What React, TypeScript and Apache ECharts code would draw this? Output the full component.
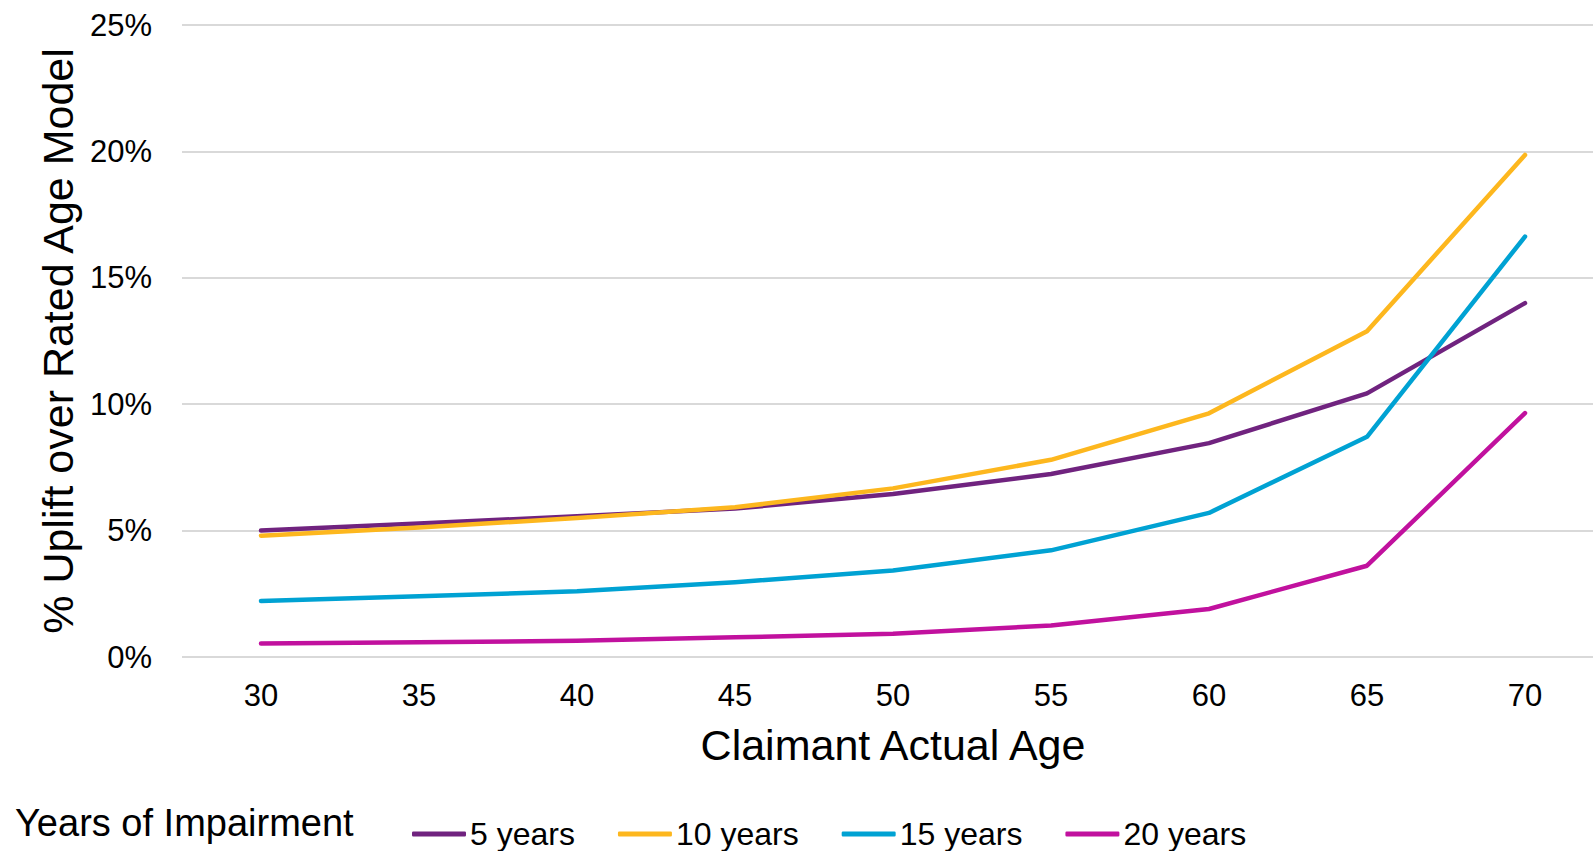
import { useEffect, useRef } from "react";
import * as echarts from "echarts";

// Claimant actual age (x categories)
const ages = ["30", "35", "40", "45", "50", "55", "60", "65", "70"];

// % uplift over the rated age model, by years of impairment
const fiveYears = [5.0, 5.28, 5.57, 5.87, 6.45, 7.24, 8.46, 10.43, 14.0];
const tenYears = [4.8, 5.12, 5.5, 5.92, 6.67, 7.8, 9.64, 12.89, 19.86];
const fifteenYears = [2.22, 2.4, 2.6, 2.96, 3.42, 4.22, 5.7, 8.71, 16.63];
const twentyYears = [0.53, 0.58, 0.64, 0.78, 0.92, 1.25, 1.9, 3.61, 9.65];

const seriesNames = ["5 years", "10 years", "15 years", "20 years"];
const seriesColors = ["#70237F", "#FDB71E", "#00A2D3", "#C1119E"];
const seriesValues = [fiveYears, tenYears, fifteenYears, twentyYears];

const FONT = "'Liberation Sans', Arial, sans-serif";

export default function App() {
  const ref = useRef<HTMLDivElement>(null);

  useEffect(() => {
    document.body.style.margin = "0";
    document.body.style.overflow = "hidden";
    const chart = echarts.init(ref.current!, null, { renderer: "svg" });

    chart.setOption({
      animation: false,
      backgroundColor: "#ffffff",
      textStyle: { fontFamily: FONT, color: "#000000" },
      // the plot runs slightly past the right edge of the visible page
      grid: { left: 182, right: 0, top: 25, bottom: 194 },
      legend: {
        left: 412,
        top: 818,
        padding: 0,
        itemGap: 43,
        itemWidth: 54,
        itemHeight: 5,
        icon: "roundRect",
        data: seriesNames,
        textStyle: { fontFamily: FONT, fontSize: 32, color: "#000000", padding: [0, 0, 0, -1] },
      },
      graphic: [
        {
          type: "text",
          left: 15,
          top: 804,
          style: {
            text: "Years of Impairment",
            font: `38px ${FONT}`,
            fill: "#000000",
          },
        },
      ],
      xAxis: {
        type: "category",
        data: ages,
        boundaryGap: true,
        name: "Claimant Actual Age",
        nameLocation: "middle",
        nameGap: 66,
        nameTextStyle: { fontFamily: FONT, fontSize: 43, color: "#000000" },
        axisLine: { show: false },
        axisTick: { show: false },
        axisLabel: { fontFamily: FONT, fontSize: 31, color: "#000000", margin: 23 },
      },
      yAxis: {
        type: "value",
        min: 0,
        max: 25,
        interval: 5,
        name: "% Uplift over Rated Age Model",
        nameLocation: "middle",
        nameGap: 101,
        nameTextStyle: { fontFamily: FONT, fontSize: 43, color: "#000000" },
        axisLine: { show: false },
        axisTick: { show: false },
        axisLabel: {
          fontFamily: FONT,
          fontSize: 31,
          color: "#000000",
          margin: 30,
          formatter: "{value}%",
        },
        splitLine: { lineStyle: { color: "#D9D9D9", width: 2 } },
      },
      series: seriesNames.map((name, i) => ({
        name,
        type: "line",
        data: seriesValues[i],
        showSymbol: false,
        symbol: "none",
        color: seriesColors[i],
        lineStyle: { width: 4.5, color: seriesColors[i], cap: "round", join: "round" },
        emphasis: { disabled: true },
      })),
    });

    return () => chart.dispose();
  }, []);

  return <div ref={ref} style={{ width: 1604, height: 851 }} />;
}
